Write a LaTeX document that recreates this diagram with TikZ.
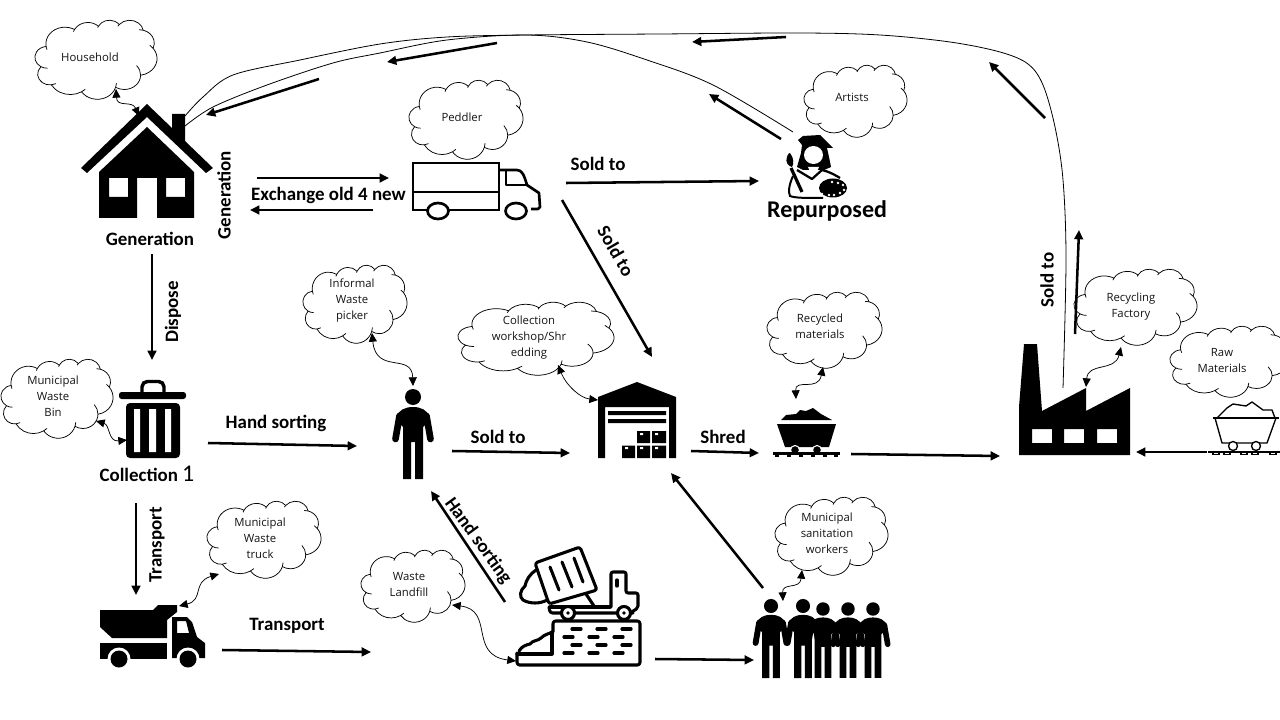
\documentclass[tikz,border=0pt]{standalone}
\usepackage{fontspec}
\setmainfont{Carlito}
\newfontfamily\cloudfont{Open Sans}
\usetikzlibrary{arrows.meta}
\tikzset{
  flow/.style={line width=1.9pt,-{Triangle[length=7pt,width=6.5pt]}},
  dbl/.style={line width=0.55pt,{Triangle[length=6.5pt,width=6pt]}-{Triangle[length=6.5pt,width=6pt]}},
  thinline/.style={line width=0.6pt},
  cloudline/.style={line width=0.55pt},
  lbl/.style={font=\fontsize{14.2}{16}\selectfont\bfseries,inner sep=0pt},
  cloudlbl/.style={font=\cloudfont\fontsize{8.5}{12}\selectfont,align=center,inner sep=0pt,text=black!92},
  icon/.style={line width=2pt,line cap=round,line join=round},
}
\newcommand\pa[4]{arc[x radius=#1,y radius=#2,start angle={atan2(#1*sin(#3),#2*cos(#3))},delta angle={mod(atan2(#1*sin(#3+#4),#2*cos(#3+#4))-atan2(#1*sin(#3),#2*cos(#3))+720,360)}]}
\newcommand\hk[4]{arc[x radius=#1,y radius=#2,start angle={atan2(#1*sin(#3),#2*cos(#3))},delta angle=#4]}
\newcommand\cloudshape[4]{%
\begin{scope}[shift={(#1,#2)},xscale={#3/432},yscale={#4/432}]
\draw[cloudline,fill=white] (39,143.7) coordinate (c0)
 \pa{67.53}{91.90}{-190.4875}{123.7805} coordinate (c1)
 \pa{53.33}{72.67}{-144.1024}{89.9452} coordinate (c2)
 \pa{43.65}{59.45}{-145.8079}{99.7230} coordinate (c3)
 \pa{48.57}{65.95}{-130.9861}{117.2417} coordinate (c4)
 \pa{53.33}{72.73}{-78.7089}{109.0269} coordinate (c5)
 \pa{67.75}{92.20}{-46.2673}{130.2690} coordinate (c6)
 \pa{57.85}{78.67}{0.6250}{114.0333} coordinate (c7)
 \pa{67.52}{92.15}{22.4516}{115.1726} coordinate (c8)
 \pa{77.20}{105.43}{66.2426}{75.7110} coordinate (c9)
 \pa{43.60}{59.18}{-274.9421}{146.7356} coordinate (c10)
 \pa{43.45}{59.45}{-246.8285}{152.5189} -- cycle;
\draw[cloudline] (c10) \hk{43.45}{59.45}{-246.8285}{-32};
\draw[cloudline] (c9) \hk{43.60}{59.18}{-274.9421}{-22};
\draw[cloudline] (c8) \hk{77.20}{105.43}{66.2426}{-12};
\draw[cloudline] (c7) \hk{67.52}{92.15}{22.4516}{-14};
\draw[cloudline] (c6) \hk{57.85}{78.67}{0.6250}{-42};
\draw[cloudline] (c5) \hk{67.75}{92.20}{-46.2673}{-14};
\draw[cloudline] (c4) \hk{53.33}{72.73}{-78.7089}{-16};
\draw[cloudline] (c0) \hk{67.53}{91.90}{-190.4875}{-12};
\draw[cloudline] (c1) \hk{53.33}{72.67}{-144.1024}{-10};
\draw[cloudline] (c2) \hk{43.65}{59.45}{-145.8079}{-8};
\draw[cloudline] (c3) \hk{48.57}{65.95}{-130.9861}{-10};
\end{scope}}
% flow arrow with named ends
\newcommand\flowarrow[3]{\coordinate (#1s) at (#2); \coordinate (#1e) at (#3); \draw[flow] (#1s) -- (#1e);}
\newcommand\dblcurve[5]{\coordinate (#1s) at (#2); \coordinate (#1e) at (#3); \draw[dbl] (#1s) .. controls (#4) and (#5) .. (#1e);}
\newcommand\personshape[3]{%
\begin{scope}[shift={(#1,#2)},scale=#3]
\fill (0,0) circle (8);
\fill (-2,45) -- (-2,82) -- (-10,82) -- (-10,30) -- (-13,27) -- (-17,20)
 .. controls (-14,13) and (-8,10) .. (0,10) .. controls (8,10) and (14,13) .. (17,20)
 -- (13,27) -- (10,30) -- (10,82) -- (2,82) -- (2,45) -- cycle;
\draw[line width=#3*5pt,line cap=round] (-13.5,19) -- (-17.5,42) (13.5,19) -- (17.5,42);
\end{scope}}
\begin{document}
\begin{tikzpicture}[x=0.75pt,y=0.75pt,yscale=-1]
\useasboundingbox (0,0) rectangle (1280,720);
\clip (0,0) rectangle (1280,720);

% ---------- clouds
\cloudshape{35}{20}{122}{79}
\node[cloudlbl] (tHousehold) at (90,57) {Household};
\cloudshape{409}{80}{114}{79}
\node[cloudlbl] (tPeddler) at (462,117) {Peddler};
\cloudshape{804}{65}{103}{72}
\node[cloudlbl] (tArtists) at (852,97) {Artists};
\cloudshape{303}{265}{104}{78}
\node[cloudlbl] (tPicker) at (352,301) {Informal\\Waste\\picker};
\cloudshape{458}{302}{156}{73}
\node[cloudlbl] (tWorkshop) at (529,338) {Collection\\workshop/Shr\\edding};
\cloudshape{767}{292}{115}{76}
\node[cloudlbl] (tRecycled) at (820,326) {Recycled\\materials};
\cloudshape{1074}{269}{123}{76}
\node[cloudlbl] (tFactory) at (1131,307) {Recycling\\Factory};
\cloudshape{1170}{326}{118}{71}
\node[cloudlbl] (tRaw) at (1222,361) {Raw\\Materials};
\cloudshape{1}{359}{112}{79}
\node[cloudlbl] (tBin) at (53,396) {Municipal\\Waste\\Bin};
\cloudshape{207}{501}{114}{77}
\node[cloudlbl] (tTruck) at (260,538) {Municipal\\Waste\\truck};
\cloudshape{361}{550}{104}{72}
\node[cloudlbl] (tLandfill) at (409,585) {Waste\\Landfill};
\cloudshape{775}{497}{113}{78}
\node[cloudlbl] (tSanitation) at (827,533) {Municipal\\sanitation\\workers};

% ---------- house
\fill (147,104) -- (172,128) -- (172,114) -- (185,114) -- (185,141) -- (213,168) -- (206,173) -- (147,117) -- (87,173) -- (81,168) -- cycle;
\fill[even odd rule] (147,127) -- (194,172) -- (194,218) -- (157,218) -- (157,178) -- (137,178) -- (137,218) -- (99,218) -- (99,172) -- cycle
 (109,178) rectangle (128,197) (166,178) rectangle (185,197);

% ---------- peddler truck
\draw[icon,line cap=butt,line join=miter] (428,210) -- (413,210) -- (413,163) -- (499,163) -- (499,210) -- (427,210);
\draw[icon,line cap=butt] (413,192) -- (499,192);
\draw[icon,line cap=butt] (499,170) -- (517,170) .. controls (522,170) and (524,175) .. (527,185) -- (539,193) -- (540,207) -- (538,209) -- (531,209);
\draw[icon,line cap=butt] (506,170) -- (506,185) -- (527,185);
\draw[icon,fill=white] (438,211) ellipse [x radius=10.5,y radius=8];
\draw[icon,fill=white] (516,211) ellipse [x radius=10.5,y radius=8];

% ---------- artist
\fill (798,140) -- (803,136) -- (820,135) -- (833,148) -- (827,148) -- (829,157) -- (831,167) -- (824,170) -- (803,170) -- (797,167) -- (801,153) -- (802,145) -- cycle;
\fill[white] (813.5,155) ellipse [x radius=9.5,y radius=9];
\fill[white] (808,167) -- (819,167) -- (816,174) -- (811,174) -- cycle;
\draw[line width=1.7pt,line join=round] (797,170) -- (812,179) -- (822,170) .. controls (830,172) and (835,175) .. (840,178);
\draw[line width=1.5pt] (793,176) .. controls (789,185) and (788,192) .. (790,196) .. controls (795,198) and (805,198) .. (823,198);
\draw[line width=2.4pt] (791,168) -- (802,192);
\fill (787,157) .. controls (788,153) and (790,153) .. (790,153) .. controls (794,158) and (794,164) .. (792,167) .. controls (788,166) and (785,162) .. (787,157) -- cycle;
\fill (833,188) ellipse [x radius=14,y radius=9.5];
\foreach \dx/\dy in {-11/6,-4/7,1/7,7/5,11/2,10/-3,5/-5,-1/-6}{\fill[white] (833+\dx,188+\dy) circle (1.3);}

% ---------- bin
\fill[rounded corners=3pt] (126,403) rectangle (180,458);
\fill[white] (134,409) rectangle (140,452) (149,409) rectangle (156,452) (165,409) rectangle (171,452);
\fill[rounded corners=2pt] (119,392) rectangle (186,399);
\draw[line width=2.6pt,rounded corners=4pt] (142,393) -- (142,381.5) -- (164,381.5) -- (164,393);

% ---------- person
\personshape{413}{397}{1}

% ---------- warehouse
\fill (637,382) -- (676,397) -- (676,458) -- (669,458) -- (669,407) -- (605,407) -- (605,458) -- (598,458) -- (598,397) -- cycle;
\fill (608,411) rectangle (666,415) (608,419) rectangle (666,423);
\fill (637,431) rectangle (650,443) (652,431) rectangle (666,443)
 (622,445.5) rectangle (635,458) (637,445.5) rectangle (650,458) (652,445.5) rectangle (666,458);
\fill[white] (640,433) rectangle (643,435) (655,433) rectangle (658,435) (625,447) rectangle (628,449) (640,447) rectangle (643,449) (655,447) rectangle (658,449);

% ---------- coal cart (filled)
\fill (781,420) -- (786,415) -- (796,414) -- (800,410) -- (806,411) -- (813,408) -- (821,414) -- (832,420) -- cycle;
\fill (777,424) -- (836,424) -- (829,447) -- (785,447) -- cycle;
\draw[fill=black,draw=white,line width=.8pt] (795,450) circle (4.5) (817,450) circle (4.5);
\fill (773,452) rectangle (840,455);
\foreach \tx in {777,789,801,813,825,836}{\fill (\tx-2,455) rectangle (\tx+2,457);}

% ---------- factory
\fill[even odd rule] (1019,455) -- (1130,455) -- (1130,388) -- (1086,411) -- (1086,388) -- (1042,411) -- (1037,344) -- (1024,344) -- (1019,407) -- cycle
 (1032,429) rectangle (1052,443) (1064,429) rectangle (1084,443) (1097,429) rectangle (1117,443);

% ---------- raw cart (outline)
\draw[line width=1pt,line join=round] (1213,418) -- (1279,418);
\draw[line width=1pt,line join=round] (1215,418) -- (1222,443) -- (1267,443) -- (1276,418);
\draw[line width=1pt,line join=round] (1217,418) -- (1227,408) -- (1233,404) -- (1246,406) -- (1252,402) -- (1263,410) -- (1272,410) -- (1275,418);
\draw[line width=1pt,fill=white] (1233,446) circle (4.5) (1256,446) circle (4.5);
\fill (1208,450.5) rectangle (1280,452.5);
\foreach \tx in {1216,1227,1244,1255,1273}{\draw[line width=.9pt] (\tx-3,452) -- (\tx-3,454.5) -- (\tx+3,454.5) -- (\tx+3,452);}

% ---------- dump truck
\fill (100,610) -- (153,610) -- (158,605) -- (177,605) -- (177,612) -- (167,620) -- (167,638) -- (112,638) -- (100,627) -- cycle;
\fill (100,643) rectangle (167,659);
\fill[even odd rule] (172,617) -- (187,617) -- (192,622) -- (197,637) -- (205,643) -- (205,658) -- (172,658) -- cycle (177,621) -- (186,621) -- (189,633) -- (177,633) -- cycle;
\fill[white] (119,659) circle (11.5) (188,659) circle (11.5);
\fill (119,659) circle (8.5) (188,659) circle (8.5);

% ---------- landfill and tipping truck
\begin{scope}[icon,line width=2.3pt]
\draw[rounded corners=2pt] (553,632) -- (553,621) -- (640,621) -- (640,665) -- (517,665) -- (517,653);
\draw (517,654) -- (552,654) -- (552,632);
\draw (519,651) .. controls (522,646) and (526,645) .. (530,644) .. controls (533,640) and (538,641) .. (541,638) .. controls (545,634) and (549,634) .. (552,632);
\foreach \yy/\xa in {629/0,637/-8,645/0,653/-8}{
  \foreach \xb in {0,25,50}{\draw[line width=2.4pt] (572+\xa+\xb,\yy) -- (581+\xa+\xb,\yy);}}
\draw[fill=white,rounded corners=2pt] (535,563) -- (580,547) -- (597,590) -- (549,604) -- cycle;
\draw (550,567) -- (559,590) (562,562) -- (572,587) (574,558) -- (583,582);
\draw (536,570) .. controls (530,574) and (526,580) .. (525,586) .. controls (520,590) and (519,597) .. (523,600) .. controls (530,604) and (540,604) .. (547,600);
\draw (586,594) -- (594,606);
\draw[rounded corners=2pt] (549,607) -- (550,613) -- (633,613);
\draw[rounded corners=2pt] (550,607) -- (610,607);
\draw[rounded corners=1.5pt] (611,607) -- (611,572) -- (626,572) -- (626,593) -- (638,593) -- (638,608) -- (630,613);
\draw[line width=2.4pt] (617,580) -- (617,586);
\draw[fill=white] (568,613) circle (6.5) (624,613) circle (6.5);
\fill (568,613) circle (1.8) (624,613) circle (1.8);
\end{scope}

% ---------- workers
\personshape{771}{606}{.88}
\personshape{803}{606}{.88}
\personshape{823}{609}{.84}
\personshape{873}{609}{.84}
\personshape{848}{609}{.84}

% ---------- thin long lines
\coordinate (houseA) at (185,116);
\coordinate (houseB) at (185,126);
\coordinate (factoryTop) at (1063,388);
\coordinate (artistTop) at (793,132);
\draw[thinline] plot[smooth,tension=.55] coordinates {(houseA) (203,97) (233,75) (300,60) (380,44) (447,37) (527,35) (660,34) (800,33) (880,35) (950,42) (1000,52) (1028,64) (1043,85) (1055,127) (1063,180) (1066,260) (factoryTop)};
\draw[thinline] plot[smooth,tension=.55] coordinates {(houseB) (213,107) (267,85) (333,63) (380,53) (447,40) (527,35) (587,42) (647,60) (713,85) (artistTop)};

% ---------- flow arrows
\flowarrow{f1}{257,178}{389,178}
\flowarrow{f2}{373,210}{250,210}
\flowarrow{f3}{152,254}{152,360}
\flowarrow{f4}{136,503}{136,595}
\flowarrow{f5}{208,443}{357,446}
\flowarrow{f6}{452,451}{570,453}
\flowarrow{f7}{691,451}{759,453}
\flowarrow{f8}{851,454}{1000,456}
\flowarrow{f9}{1207,452}{1136,452}
\flowarrow{f10}{222,650}{371,652}
\flowarrow{f11}{505,602}{431,491}
\flowarrow{f12}{655,659}{754,660}
\flowarrow{f13}{763,588}{671,473}
\flowarrow{f14}{562,200}{652,357}
\flowarrow{f15}{566,183}{759,181}
\flowarrow{f16}{781,139}{709,94}
\flowarrow{f17}{1045,118}{989,62}
\flowarrow{f18}{786,37}{692,42}
\flowarrow{f19}{497,43}{387,62}
\flowarrow{f20}{319,79}{206,115}
\flowarrow{f21}{1075,334}{1079,230}

% ---------- double curved connectors
\dblcurve{d1}{116,89}{139,116}{117,108}{132,100}
\dblcurve{d2}{179,606}{219,574}{204,600}{192,582}
\dblcurve{d3}{96,421}{127,440}{110,425}{108,442}
\dblcurve{d4}{372,333}{413,386}{376,375}{412,352}
\dblcurve{d5}{558,365}{598,400}{566,385}{580,398}
\dblcurve{d6}{823,367}{796,399}{818,392}{795,378}
\dblcurve{d7}{1121,347}{1086,387}{1115,372}{1088,362}
\dblcurve{d8}{452,605}{516,661}{495,610}{468,655}
\dblcurve{d9}{802,570}{783,601}{800,590}{782,582}

% ---------- labels
\node[lbl] (lGen) at (150,239) {Generation};
\node[lbl,rotate=90] (lGenV) at (224,195) {Generation};
\node[lbl] (lEx) at (328.5,195) {Exchange old 4 new};
\node[lbl,rotate=90] (lDis) at (173,312) {Dispose};
\node[lbl] (lCol) at (147,474) {Collection {\fontsize{18}{18}\selectfont\mdseries 1}};
\node[lbl,rotate=90] (lTr1) at (157,545) {Transport};
\node[lbl] (lHs) at (276,423) {Hand sorting};
\node[lbl] (lSo1) at (498,436.5) {Sold to};
\node[lbl] (lSh) at (723,437) {Shred};
\node[lbl] (lTr2) at (287,626) {Transport};
\node[lbl,rotate=-54] (lHs2) at (478,541) {Hand sorting};
\node[lbl,rotate=-60] (lSo2) at (616,251) {Sold to};
\node[lbl] (lSo3) at (598,164) {Sold to};
\node[lbl,rotate=90] (lSo4) at (1047,280) {Sold to};
\node[lbl,font=\fontsize{18}{20}\selectfont\bfseries] (lRep) at (827,211) {Repurposed};
\end{tikzpicture}
\end{document}
